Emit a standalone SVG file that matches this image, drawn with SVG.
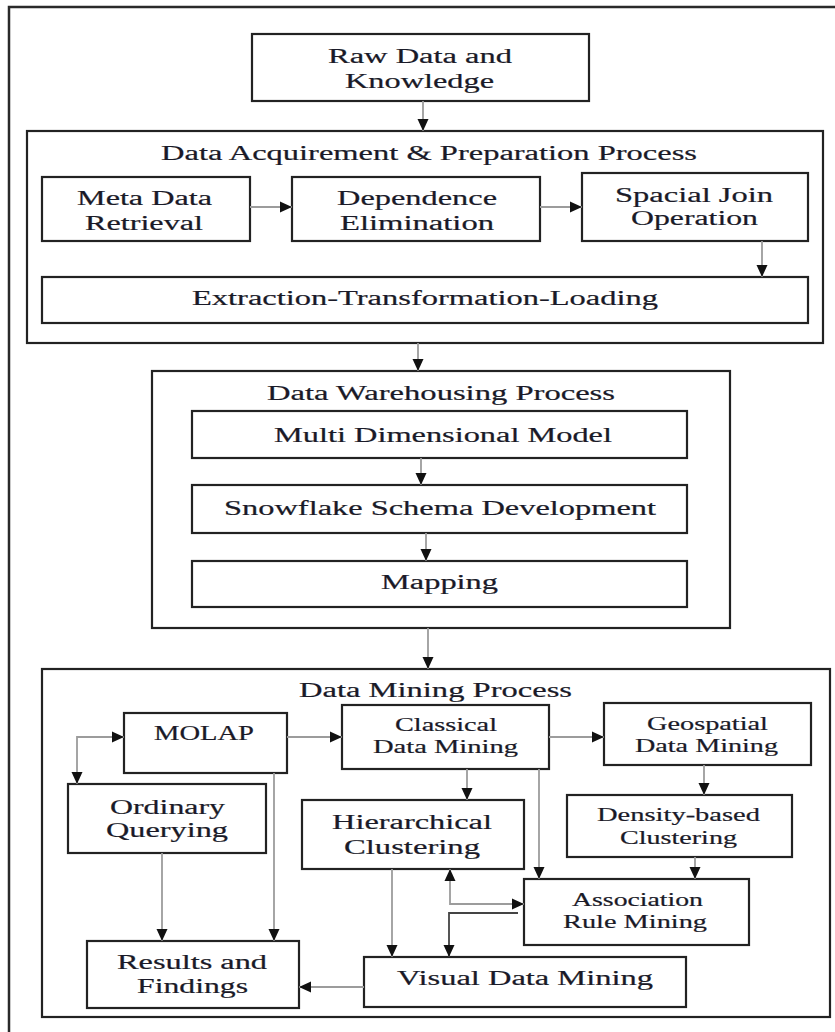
<svg xmlns="http://www.w3.org/2000/svg" width="835" height="1032" viewBox="0 0 835 1032">
  <defs>
    <marker id="arrow" viewBox="0 0 12 12" refX="12" refY="6" markerWidth="12" markerHeight="12" markerUnits="userSpaceOnUse" orient="auto-start-reverse">
      <path d="M0,0.5 L12,6 L0,11.5 z" fill="#111"/>
    </marker>
  </defs>
  <style>
    .frame { fill: none; stroke: #2a2a2a; stroke-width: 2.5; }
    .box { fill: #fff; stroke: #222; stroke-width: 2.2; }
    .group { fill: none; stroke: #222; stroke-width: 2.2; }
    .lbl { font-family: "Liberation Serif", "Times New Roman", serif; font-size: 20px; fill: #1a1a28; stroke: #1a1a28; stroke-width: 0.2; }
    .sm { font-size: 18.5px; }
    .conn { fill: none; stroke: #9c9c9c; stroke-width: 1.8; marker-end: url(#arrow); }
    .dark { stroke: #444; }
    .both { marker-start: url(#arrow); }
  </style>
  <rect width="835" height="1032" fill="#fff"/>

  <!-- outer page frame -->
  <rect class="frame" x="9" y="7" width="840" height="1040"/>

  <g id="raw-data">
    <rect class="box" x="252" y="34" width="337" height="67" stroke-width="2.6"/>
    <text class="lbl" x="328" y="63" textLength="184" lengthAdjust="spacingAndGlyphs">Raw Data and</text>
    <text class="lbl" x="345" y="88" textLength="149" lengthAdjust="spacingAndGlyphs">Knowledge</text>
  </g>

  <g id="acquirement">
    <rect class="group" x="27" y="131" width="796" height="212"/>
    <text class="lbl" x="161" y="160" textLength="536" lengthAdjust="spacingAndGlyphs">Data Acquirement &amp; Preparation Process</text>
  </g>
  <g id="meta-data">
    <rect class="box" x="42" y="177" width="208" height="64"/>
    <text class="lbl" x="77" y="205" textLength="135" lengthAdjust="spacingAndGlyphs">Meta Data</text>
    <text class="lbl" x="85" y="230" textLength="118" lengthAdjust="spacingAndGlyphs">Retrieval</text>
  </g>
  <g id="dependence">
    <rect class="box" x="292" y="177" width="248" height="64"/>
    <text class="lbl" x="337" y="205" textLength="160" lengthAdjust="spacingAndGlyphs">Dependence</text>
    <text class="lbl" x="340" y="230" textLength="154" lengthAdjust="spacingAndGlyphs">Elimination</text>
  </g>
  <g id="spacial-join">
    <rect class="box" x="582" y="173" width="226" height="68"/>
    <text class="lbl" x="615" y="202" textLength="158" lengthAdjust="spacingAndGlyphs">Spacial Join</text>
    <text class="lbl" x="631" y="225" textLength="127" lengthAdjust="spacingAndGlyphs">Operation</text>
  </g>
  <g id="etl">
    <rect class="box" x="42" y="277" width="766" height="46"/>
    <text class="lbl" x="192" y="305" textLength="466" lengthAdjust="spacingAndGlyphs">Extraction-Transformation-Loading</text>
  </g>

  <g id="warehousing">
    <rect class="group" x="152" y="371" width="578" height="257"/>
    <text class="lbl" x="267" y="400" textLength="348" lengthAdjust="spacingAndGlyphs">Data Warehousing Process</text>
  </g>
  <g id="multi-dimensional">
    <rect class="box" x="192" y="411" width="495" height="47"/>
    <text class="lbl" x="274" y="442" textLength="338" lengthAdjust="spacingAndGlyphs">Multi Dimensional Model</text>
  </g>
  <g id="snowflake">
    <rect class="box" x="192" y="485" width="495" height="48"/>
    <text class="lbl" x="224" y="515" textLength="432" lengthAdjust="spacingAndGlyphs">Snowflake Schema Development</text>
  </g>
  <g id="mapping">
    <rect class="box" x="192" y="561" width="495" height="46"/>
    <text class="lbl" x="381" y="589" textLength="117" lengthAdjust="spacingAndGlyphs">Mapping</text>
  </g>

  <g id="mining">
    <rect class="group" x="42" y="669" width="788" height="348"/>
    <text class="lbl" x="299" y="697" textLength="273" lengthAdjust="spacingAndGlyphs">Data Mining Process</text>
  </g>
  <g id="molap">
    <rect class="box" x="124" y="713" width="163" height="60"/>
    <text class="lbl" x="154" y="740" textLength="100" lengthAdjust="spacingAndGlyphs">MOLAP</text>
  </g>
  <g id="classical">
    <rect class="box" x="342" y="705" width="207" height="64"/>
    <text class="lbl sm" x="395" y="731" textLength="102" lengthAdjust="spacingAndGlyphs">Classical</text>
    <text class="lbl sm" x="373" y="753" textLength="145" lengthAdjust="spacingAndGlyphs">Data Mining</text>
  </g>
  <g id="geospatial">
    <rect class="box" x="604" y="703" width="207" height="62"/>
    <text class="lbl sm" x="647" y="730" textLength="121" lengthAdjust="spacingAndGlyphs">Geospatial</text>
    <text class="lbl sm" x="635" y="752" textLength="143" lengthAdjust="spacingAndGlyphs">Data Mining</text>
  </g>
  <g id="ordinary">
    <rect class="box" x="68" y="784" width="198" height="69"/>
    <text class="lbl" x="110" y="814" textLength="115" lengthAdjust="spacingAndGlyphs">Ordinary</text>
    <text class="lbl" x="106" y="837" textLength="122" lengthAdjust="spacingAndGlyphs">Querying</text>
  </g>
  <g id="hierarchical">
    <rect class="box" x="302" y="800" width="222" height="69"/>
    <text class="lbl" x="332" y="829" textLength="160" lengthAdjust="spacingAndGlyphs">Hierarchical</text>
    <text class="lbl" x="344" y="854" textLength="136" lengthAdjust="spacingAndGlyphs">Clustering</text>
  </g>
  <g id="density">
    <rect class="box" x="567" y="795" width="225" height="62"/>
    <text class="lbl sm" x="597" y="821" textLength="163" lengthAdjust="spacingAndGlyphs">Density-based</text>
    <text class="lbl sm" x="620" y="844" textLength="117" lengthAdjust="spacingAndGlyphs">Clustering</text>
  </g>
  <g id="association">
    <rect class="box" x="524" y="879" width="225" height="66"/>
    <text class="lbl sm" x="572" y="906" textLength="131" lengthAdjust="spacingAndGlyphs">Association</text>
    <text class="lbl sm" x="563" y="928" textLength="144" lengthAdjust="spacingAndGlyphs">Rule Mining</text>
  </g>
  <g id="results">
    <rect class="box" x="87" y="941" width="212" height="67"/>
    <text class="lbl" x="117" y="969" textLength="150" lengthAdjust="spacingAndGlyphs">Results and</text>
    <text class="lbl" x="137" y="993" textLength="111" lengthAdjust="spacingAndGlyphs">Findings</text>
  </g>
  <g id="visual">
    <rect class="box" x="364" y="957" width="322" height="50"/>
    <text class="lbl" x="397" y="985" textLength="256" lengthAdjust="spacingAndGlyphs">Visual Data Mining</text>
  </g>

  <g id="connectors">
    <path class="conn" d="M423,101 V131"/>
    <path class="conn" d="M250,207 H292"/>
    <path class="conn" d="M540,207 H582"/>
    <path class="conn" d="M762,241 V277"/>
    <path class="conn" d="M418,343 V371"/>
    <path class="conn" d="M421,458 V485"/>
    <path class="conn" d="M426,533 V561"/>
    <path class="conn" d="M428,628 V669"/>
    <path class="conn" d="M287,737 H342"/>
    <path class="conn both" d="M124,737 H77 V784"/>
    <path class="conn" d="M162,853 V941"/>
    <path class="conn" d="M274,773 V941"/>
    <path class="conn" d="M364,987 H299"/>
    <path class="conn" d="M467,769 V800"/>
    <path class="conn" d="M539,769 V879"/>
    <path class="conn" d="M549,737 H604"/>
    <path class="conn" d="M704,765 V795"/>
    <path class="conn" d="M695,857 V879"/>
    <path class="conn both" d="M450,869 V904 H524"/>
    <path class="conn dark" d="M518,913 H449 V957"/>
    <path class="conn" d="M392,869 V957"/>
  </g>
</svg>
